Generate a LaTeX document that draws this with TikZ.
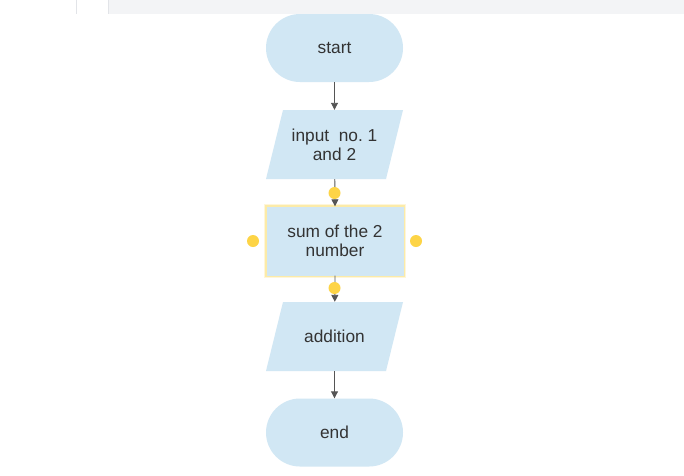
\documentclass[tikz,border=0pt]{standalone}
\usepackage{fontspec}
\setmainfont{Liberation Sans}
\usetikzlibrary{arrows.meta}
\definecolor{boxfill}{HTML}{D1E7F4}
\definecolor{txt}{HTML}{333333}
\definecolor{lin}{HTML}{555555}
\definecolor{dotc}{HTML}{FDD446}
\definecolor{glow}{HTML}{FCEBA8}
\definecolor{glowout}{HTML}{FEF6DA}
\definecolor{topbar}{HTML}{F3F4F6}
\definecolor{tabline}{HTML}{E2E4E8}
\frenchspacing
\begin{document}
\begin{tikzpicture}[x=1pt,y=-1pt,
  every node/.style={font=\fontsize{17.3}{19}\selectfont, text=txt, align=center},
  term/.style={fill=boxfill, rounded corners=34pt, minimum width=137pt, minimum height=68pt, inner sep=0pt},
  io/.style={minimum width=137pt, minimum height=69pt, inner sep=0pt},
  proc/.style={fill=boxfill, minimum width=137pt, minimum height=69pt, inner sep=0pt},
  conn/.style={draw=lin, line width=0.9pt, -{Triangle[length=7pt,width=7pt]}},
  handle/.style={circle, fill=dotc, minimum size=12pt, inner sep=0pt}
]
\useasboundingbox (0,0) rectangle (684,475);
\fill[white] (0,0) rectangle (684,475);
\fill[topbar] (109,0) rectangle (684,14);
\draw[tabline] (76.5,0) -- (76.5,14);
\draw[tabline] (108.5,0) -- (108.5,14);

% parallelogram backgrounds
\fill[boxfill] (283,110) -- (403,110) -- (386,179) -- (266,179) -- cycle;
\fill[boxfill] (283,302) -- (403,302) -- (386,371) -- (266,371) -- cycle;
% glow of selected box
\draw[glowout, line width=4pt] (266,206) rectangle (404,276);
\draw[glow, line width=1.5pt] (266,206) rectangle (404,276);

\node[term] (start) at (334.5,48) {start};
\node[io] (input) at (334.5,144.5) {input\ \ no. 1\\and 2};
\node[proc] (sum) at (335,241) {sum of the 2\\number};
\node[io] (add) at (334.5,336.5) {addition};
\node[term] (end) at (334.5,432.5) {end};

\draw[conn] (start) -- (input);
\draw[conn] (input) -- (sum.north);
\draw[conn] (sum.south) -- (add);
\draw[conn] (add) -- (end);

\node[handle] (h1) at (334.5,193) {};
\node[handle] (h2) at (334.5,288) {};
\node[handle] (h3) at (253,241) {};
\node[handle] (h4) at (416,241) {};
\end{tikzpicture}
\end{document}
